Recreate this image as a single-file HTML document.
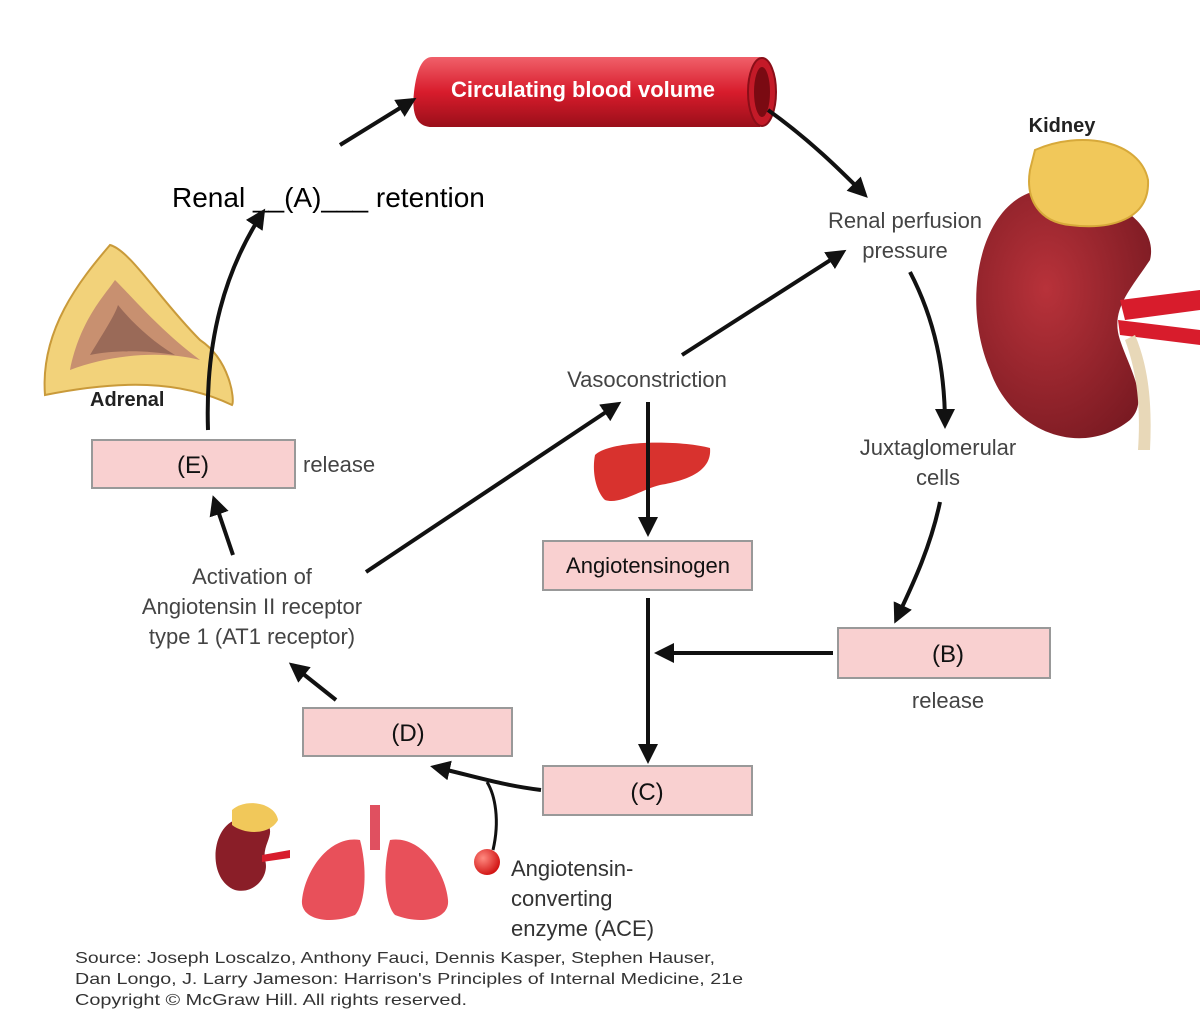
<!DOCTYPE html>
<html><head><meta charset="utf-8"><style>
html,body{margin:0;padding:0;background:#fff;}
svg{display:block;font-family:"Liberation Sans",sans-serif;}
</style></head><body>
<svg width="1200" height="1011" viewBox="0 0 1200 1011" xmlns="http://www.w3.org/2000/svg">
<defs>
<marker id="ah" viewBox="0 0 10 10" refX="8" refY="5" markerWidth="5" markerHeight="5" orient="auto-start-reverse"><path d="M0,0 L10,5 L0,10 z" fill="#111"/></marker>
<linearGradient id="tube" x1="0" y1="0" x2="0" y2="1"><stop offset="0" stop-color="#f0606a"/><stop offset="0.5" stop-color="#d81c2c"/><stop offset="1" stop-color="#9a0f1a"/></linearGradient>
<radialGradient id="kid" cx="0.4" cy="0.4" r="0.7"><stop offset="0" stop-color="#b8323a"/><stop offset="1" stop-color="#7a1a22"/></radialGradient>
<radialGradient id="ball" cx="0.35" cy="0.35" r="0.7"><stop offset="0" stop-color="#ff8a80"/><stop offset="1" stop-color="#d01010"/></radialGradient>
</defs>

<!-- blood vessel -->
<path d="M432,57 L760,57 Q780,92 760,127 L432,127 Q410,127 414,92 Q418,57 432,57 z" fill="url(#tube)"/>
<ellipse cx="762" cy="92" rx="14" ry="34" fill="#c41a28" stroke="#8a0e18" stroke-width="2"/>
<ellipse cx="762" cy="92" rx="8" ry="25" fill="#7a0a12"/>
<text x="583" y="97" font-size="22" font-weight="bold" fill="#fff" text-anchor="middle">Circulating blood volume</text>

<!-- kidney -->
<path d="M1040,190 C980,200 960,300 990,370 C1010,430 1080,460 1130,420 C1150,400 1130,370 1120,340 C1110,310 1130,290 1150,260 C1160,220 1100,185 1040,190 z" fill="url(#kid)"/>
<path d="M1035,150 C1080,130 1140,140 1148,180 C1150,220 1110,230 1070,225 C1040,222 1025,200 1030,170 z" fill="#f1c85a" stroke="#d7a93a" stroke-width="2"/>
<path d="M1120,300 L1200,290 L1200,310 L1125,320 z M1118,320 L1200,330 L1200,345 L1120,335 z" fill="#d81c2c"/>
<path d="M1125,340 C1140,380 1140,420 1138,450 L1150,450 C1152,410 1150,370 1135,335 z" fill="#e8d8b8"/>
<text x="1062" y="132" font-size="20" font-weight="bold" fill="#222" text-anchor="middle">Kidney</text>

<!-- adrenal -->
<path d="M45,395 C40,330 80,280 110,245 C130,250 160,300 200,340 C230,360 235,400 232,405 C180,380 120,380 45,395 z" fill="#f2d27a" stroke="#c99a3a" stroke-width="2"/>
<path d="M70,370 C80,320 105,295 115,280 C135,300 160,330 200,360 C160,350 110,355 70,370 z" fill="#c89070"/>
<path d="M90,355 C105,330 115,315 118,305 C130,320 150,340 175,355 C145,350 115,350 90,355 z" fill="#9a6a58"/>
<text x="90" y="406" font-size="20" font-weight="bold" fill="#222">Adrenal</text>

<!-- liver -->
<path d="M595,455 C610,440 680,440 710,448 C712,470 690,480 660,485 C640,490 620,505 605,500 C595,490 592,470 595,455 z" fill="#d8322e"/>

<!-- small kidney & lungs -->
<path d="M235,820 C210,830 208,880 235,890 C255,895 270,875 265,860 C262,845 275,835 268,825 C260,815 245,815 235,820z" fill="#8a1e28"/>
<path d="M232,810 C245,798 275,802 278,820 C270,835 245,835 232,825z" fill="#f1c85a"/>
<path d="M262,855 L290,850 L290,858 L262,862z" fill="#d81c2c"/>
<rect x="370" y="805" width="10" height="45" fill="#e05060"/>
<path d="M360,840 C330,835 305,870 302,900 C300,920 330,925 355,915 C365,905 368,870 360,840z" fill="#e8505a"/>
<path d="M390,840 C420,835 445,870 448,900 C450,920 420,925 395,915 C385,905 382,870 390,840z" fill="#e8505a"/>

<!-- texts -->
<text x="172" y="207" font-size="28" fill="#000">Renal __(A)___ retention</text>
<g font-size="22" fill="#444" text-anchor="middle">
<text x="905" y="228">Renal perfusion</text><text x="905" y="258">pressure</text>
<text x="938" y="455">Juxtaglomerular</text><text x="938" y="485">cells</text>
<text x="948" y="708">release</text>
<text x="647" y="387">Vasoconstriction</text>
<text x="252" y="584">Activation of</text><text x="252" y="614">Angiotensin II receptor</text><text x="252" y="644">type 1 (AT1 receptor)</text>
</g>
<text x="303" y="472" font-size="22" fill="#444">release</text>
<g font-size="22" fill="#333">
<text x="511" y="876">Angiotensin-</text><text x="511" y="906">converting</text><text x="511" y="936">enzyme (ACE)</text>
</g>
<g font-size="16" fill="#333">
<text x="75" y="963" textLength="640" lengthAdjust="spacingAndGlyphs">Source: Joseph Loscalzo, Anthony Fauci, Dennis Kasper, Stephen Hauser,</text>
<text x="75" y="984" textLength="668" lengthAdjust="spacingAndGlyphs">Dan Longo, J. Larry Jameson: Harrison's Principles of Internal Medicine, 21e</text>
<text x="75" y="1005" textLength="392" lengthAdjust="spacingAndGlyphs">Copyright © McGraw Hill. All rights reserved.</text>
</g>

<!-- boxes -->
<g fill="#f9d0d0" stroke="#999" stroke-width="2">
<rect x="838" y="628" width="212" height="50"/>
<rect x="543" y="541" width="209" height="49"/>
<rect x="543" y="766" width="209" height="49"/>
<rect x="303" y="708" width="209" height="48"/>
<rect x="92" y="440" width="203" height="48"/>
</g>
<g font-size="24" fill="#111" text-anchor="middle">
<text x="948" y="662">(B)</text>
<text x="647" y="800">(C)</text>
<text x="408" y="741">(D)</text>
<text x="193" y="473">(E)</text>
<text x="648" y="573" font-size="22">Angiotensinogen</text>
</g>

<!-- ACE ball -->
<circle cx="487" cy="862" r="13" fill="url(#ball)"/>

<!-- arrows -->
<g stroke="#111" stroke-width="4" fill="none" marker-end="url(#ah)">
<path d="M340,145 L413,100"/>
<path d="M768,110 C810,140 840,170 865,195"/>
<path d="M910,272 C935,320 945,370 945,425"/>
<path d="M940,502 C930,550 910,590 896,620"/>
<path d="M833,653 L658,653"/>
<path d="M682,355 L843,252"/>
<path d="M648,402 L648,533"/>
<path d="M648,598 L648,760"/>
<path d="M541,790 C500,785 470,775 434,767"/>
<path d="M336,700 L292,665"/>
<path d="M366,572 L618,404"/>
<path d="M233,555 L214,499"/>
<path d="M208,430 C205,340 225,270 263,212"/>
</g>
<path d="M493,850 C500,820 495,795 487,782" stroke="#111" stroke-width="3" fill="none"/>
</svg>
</body></html>
